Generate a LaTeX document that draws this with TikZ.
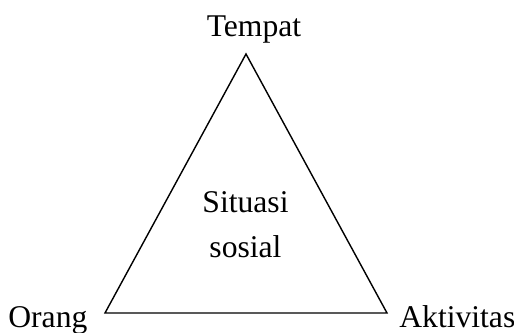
\documentclass[tikz,border=0pt]{standalone}
\usepackage{fontspec}
\setmainfont{Liberation Serif}
\usepackage{tikz}
\usetikzlibrary{positioning}
\tikzset{
  cornerlabel/.style={
    inner sep=0pt,
    font=\fontsize{18}{22}\selectfont
  },
  centerlabel/.style={
    inner sep=0pt,
    align=center,
    font=\fontsize{18}{22.8}\selectfont
  },
  sideline/.style={
    thick,
    draw=black,
    line join=miter
  }
}
\begin{document}
\begin{tikzpicture}[x=0.02cm,y=-0.02cm]
\useasboundingbox (0,0) rectangle (514,333);
\coordinate (apex) at (246,54);
\coordinate (left) at (105,313);
\coordinate (right) at (387,313);
\node[cornerlabel, anchor=base] (tempat) at (254,37) {Tempat};
\node[cornerlabel, anchor=base west] (orang) at (8,328) {Orang};
\node[cornerlabel, anchor=base west] (aktivitas) at (399,328) {Aktivitas};
\node[centerlabel] (situasi) at (245.5,225) {Situasi\\[0.1cm]sosial};
\draw[sideline] (apex) -- (left) -- (right) -- cycle;
\end{tikzpicture}
\end{document}
